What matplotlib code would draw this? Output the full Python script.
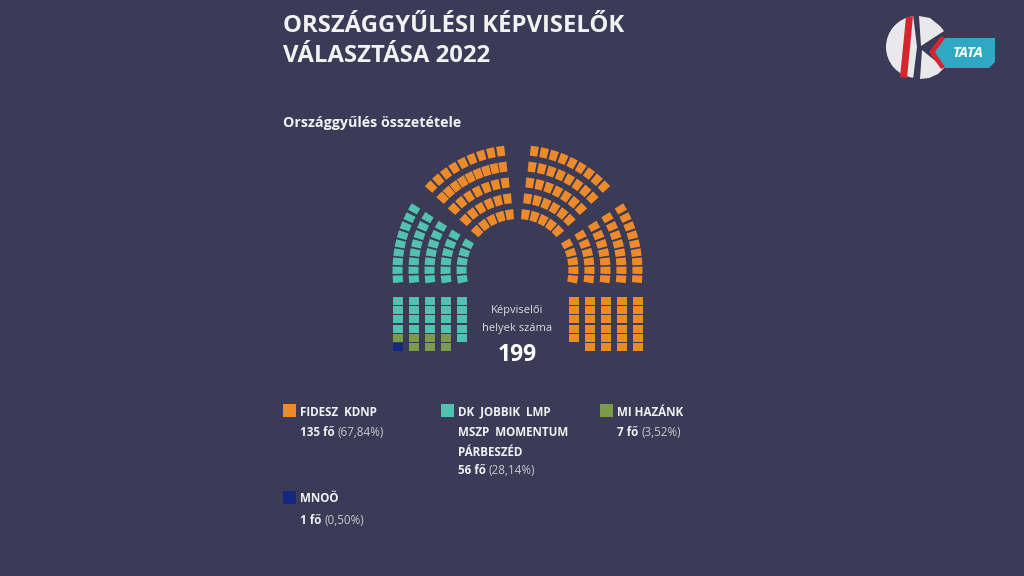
import numpy as np
import matplotlib.pyplot as plt
from matplotlib.patches import Polygon, Rectangle, Wedge

plt.rcParams['font.family'] = ['Open Sans', 'DejaVu Sans']

# colours
bg = '#3b3a57'
c_fidesz = '#ed8b2b'
c_ellenzek = '#52c2b0'
c_mihazank = '#7b9a4b'
c_mnoo = '#15287f'

# parties
parties = ['FIDESZ  KDNP', 'DK  JOBBIK  LMP\nMSZP  MOMENTUM\nPÁRBESZÉD', 'MI HAZÁNK', 'MNOÖ']
seats = [135, 56, 7, 1]
shares = ['67,84%', '28,14%', '3,52%', '0,50%']
colors = [c_fidesz, c_ellenzek, c_mihazank, c_mnoo]

# seat layout, rings listed outer -> inner
ring_r = [120, 104, 88, 72, 56]
left_arc = [9, 8, 7, 6, 5]          # ellenzek
topleft_arc = [9, 9, 7, 6, 5]       # fidesz
topright_arc = [9, 8, 7, 6, 5]      # fidesz
right_arc = [9, 8, 7, 6, 5]         # fidesz
# straight columns under the arc, outer -> inner, each column top -> bottom
left_cols = [
    ['E'] * 4 + ['M', 'N'],
    ['E'] * 4 + ['M', 'M'],
    ['E'] * 4 + ['M', 'M'],
    ['E'] * 4 + ['M', 'M'],
    ['E'] * 5,
]
right_cols = [['F'] * 6, ['F'] * 6, ['F'] * 6, ['F'] * 6, ['F'] * 5]
code_col = {'F': c_fidesz, 'E': c_ellenzek, 'M': c_mihazank, 'N': c_mnoo}

fig = plt.figure(figsize=(10.24, 5.76), dpi=100)
fig.patch.set_facecolor(bg)
ax = fig.add_axes([0, 0, 1, 1])
ax.set_xlim(0, 1024)
ax.set_ylim(576, 0)
ax.axis('off')
ax.set_facecolor(bg)

cx, cy = 517.5, 270
hr = 5.0      # radial half size of a seat


def arc_seat(r, th, col, ha):
    da = ha / r
    pts = []
    for rr, tt in [(r - hr, th - da), (r + hr, th - da), (r + hr, th + da), (r - hr, th + da)]:
        pts.append((cx + rr * np.cos(tt), cy - rr * np.sin(tt)))
    ax.add_patch(Polygon(pts, closed=True, fc=col, ec='none'))


def side_sector(counts, side, col):
    # seats stacked in rows of equal height, like the columns below
    y_bot, pitch = 279, 8.75
    for r, n in zip(ring_r, counts):
        for j in range(n):
            y = y_bot - j * pitch
            a = np.arcsin((cy - y) / r)
            th = np.pi - a if side == 'left' else a
            arc_seat(r, th, col, 3.6)


def top_sector(counts, a0, a1, col):
    for r, n in zip(ring_r, counts):
        for i in range(n):
            th = np.radians(a0 + (a1 - a0) * i / (n - 1))
            arc_seat(r, th, col, 3.9)


side_sector(left_arc, 'left', c_ellenzek)
top_sector(topleft_arc, 136, 98, c_fidesz)
top_sector(topright_arc, 82, 44, c_fidesz)
side_sector(right_arc, 'right', c_fidesz)

# straight blocks
y0 = 297
row_h = 9.2
for r, col in zip(ring_r, left_cols):
    for j, code in enumerate(col):
        ax.add_patch(Rectangle((cx - r - hr, y0 + j * row_h), 2 * hr, row_h - 1.2,
                               fc=code_col[code], ec='none'))
for r, col in zip(ring_r, right_cols):
    for j, code in enumerate(col):
        ax.add_patch(Rectangle((cx + r - hr, y0 + j * row_h), 2 * hr, row_h - 1.2,
                               fc=code_col[code], ec='none'))

# centre text
ax.text(cx, 311, 'Képviselői', color='#dcdcdc', fontsize=8, ha='center', va='center')
ax.text(cx, 329, 'helyek száma', color='#dcdcdc', fontsize=8, ha='center', va='center')
ax.text(cx, 355, str(sum(seats)), color='white', fontsize=16.5, fontweight='bold',
        ha='center', va='center')

# titles
ax.text(283, 26, 'ORSZÁGGYŰLÉSI KÉPVISELŐK', color='#f2f2f2', fontsize=17.2,
        fontweight='bold', va='center', ha='left')
ax.text(283, 56, 'VÁLASZTÁSA 2022', color='#f2f2f2', fontsize=17.2,
        fontweight='bold', va='center', ha='left')
ax.text(283, 123, 'Országgyűlés összetétele', color='#f2f2f2', fontsize=10.3,
        fontweight='bold', va='center', ha='left')

# legend
leg_pos = [(283, 404), (441, 404), (600, 404), (283, 491)]
renderer = fig.canvas.get_renderer()
for (lx, ly), name, n, sh, col in zip(leg_pos, parties, seats, shares, colors):
    ax.add_patch(Rectangle((lx, ly), 13, 13, fc=col, ec='none'))
    lines = name.split('\n')
    for k, line in enumerate(lines):
        ax.text(lx + 17, ly + 8 + k * 20, line, color='#f2f2f2', fontsize=8.4,
                fontweight='bold', va='center', ha='left')
    if len(lines) > 1:
        yy = ly + 8 + 3 * 20 - 2
    else:
        yy = ly + 29
    t = ax.text(lx + 17, yy, f'{n} fő', color='#f2f2f2', fontsize=8.4,
                fontweight='bold', va='center', ha='left')
    bb = t.get_window_extent(renderer)
    ax.annotate(f'({sh})', xy=(bb.x1 + 3, 576 - yy), xycoords='figure pixels',
                color='#c9c9cf', fontsize=8.4, va='center', ha='left')

# logo
lc = (917, 47)
ax.add_patch(Wedge(lc, 31, 97, 263, fc='#e9e9ec', ec='none'))
ax.add_patch(Polygon([(906, 17), (913, 16.5), (907, 78), (900, 77)], fc='#d6252e', ec='none'))
ax.add_patch(Polygon([(919, 16), (930, 18), (940, 26), (944, 31), (921, 46)],
                     fc='#e9e9ec', ec='none'))
ax.add_patch(Polygon([(922, 50), (944, 68), (938, 74), (929, 78), (920, 79)],
                     fc='#e9e9ec', ec='none'))
ax.add_patch(Polygon([(933, 52), (944, 38), (995, 38), (995, 62), (989, 68), (944, 68)],
                     fc='#2fa8c4', ec='none'))
ax.add_patch(Polygon([(929, 52), (941, 36), (945, 38), (935, 52), (945, 67), (941, 69)],
                     fc='#d6252e', ec='none'))
ax.text(968, 53, 'TATA', color='white', fontsize=10.5, fontweight='bold', style='italic',
        ha='center', va='center')

fig.savefig('out.png', dpi=100, facecolor=bg)
